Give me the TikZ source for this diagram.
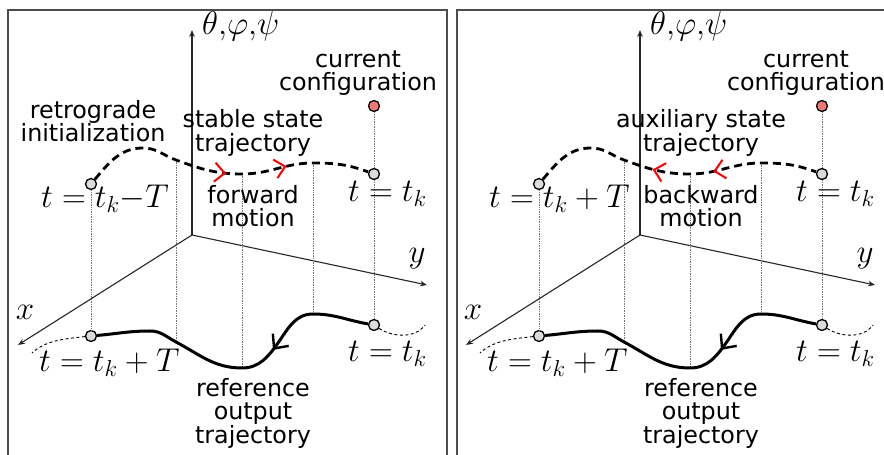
\documentclass[tikz,border=0pt]{standalone}
\usepackage{fix-cm}
\usepackage{fontspec}
\newfontfamily\dejavu{DejaVu Sans}
\usetikzlibrary{arrows.meta, decorations.markings}
\definecolor{nowred}{HTML}{F27878}
\definecolor{knotgray}{HTML}{DCDCDC}

\begin{document}
\begin{tikzpicture}[x=1pt, y=1pt,
    lbl/.style={font=\dejavu\fontsize{23.8}{23.5}\selectfont, align=center, inner sep=0pt},
    mth/.style={font=\fontsize{33}{35}\selectfont, inner sep=0pt, anchor=base west},
    axline/.style={line width=1.1pt, black!85, -{Stealth[length=7pt, width=5.5pt]}},
    knot/.style={circle, draw, line width=1.3pt, fill=#1, minimum size=11pt, inner sep=0pt},
    drop/.style={densely dotted, line width=0.7pt, black!55},
    statepath/.style={line width=2.8pt, dash pattern=on 8pt off 5pt},
    outpath/.style={line width=3pt},
    tail/.style={dash pattern=on 3pt off 2.5pt, line width=0.9pt},
    panelframe/.style={line width=1.5pt, black!70}]
  \useasboundingbox (0,0) rectangle (884,455);
  \clip (0,0) rectangle (884,455);
  \draw[panelframe] (8,-20) rectangle (447,445);
  \draw[panelframe] (457,-20) rectangle (904,445);

  \foreach \dx/\pn/\tstart/\stxt/\mtxt/\tipcmd/\posA/\posB in {
      0/L/{$t=t_k{-}T$}/{stable state\\trajectory}/{forward\\motion}/\arrow/0.505/0.715,
      448/R/{$t=t_k+T$}/{auxiliary state\\trajectory}/{backward\\motion}/\arrowreversed/0.43/0.64}{
  \begin{scope}[xshift=\dx pt]
    % axes
    \coordinate (\pn o) at (192,220);
    \coordinate (\pn zt) at (192,425);
    \coordinate (\pn yt) at (427,170);
    \coordinate (\pn xt) at (18,110);
    \draw[axline] (\pn o) -- (\pn zt);
    \draw[axline] (\pn o) -- (\pn yt);
    \draw[axline] (\pn o) -- (\pn xt);
    \node[mth] (\pn zl) at (202,420) {$\theta{,}\varphi{,}\psi$};
    \node[mth, anchor=base] (\pn yl) at (417,192) {$y$};
    \node[mth, anchor=base] (\pn xl) at (25,135) {$x$};

    % end points of both trajectories
    \node[knot=nowred] (\pn c) at (374,349) {};
    \node[knot=knotgray] (\pn ua) at (91,271) {};
    \node[knot=knotgray] (\pn ub) at (374,281) {};
    \node[knot=knotgray] (\pn la) at (91,119) {};
    \node[knot=knotgray] (\pn lb) at (374,130) {};
    \coordinate (\pn u1) at (143,307);
    \coordinate (\pn u2) at (176,295);
    \coordinate (\pn u3) at (242,281);
    \coordinate (\pn u4) at (313,292);
    \coordinate (\pn l1) at (313,141);
    \coordinate (\pn l2) at (278,112);
    \coordinate (\pn l3) at (242,87);
    \coordinate (\pn l4) at (176,113);
    \coordinate (\pn l5) at (150,124);
    \coordinate (\pn xe) at (32,102);
    \coordinate (\pn ye) at (425,130);

    % projections
    \draw[drop] (\pn c) -- (\pn ub);
    \draw[drop] (\pn ub) -- (\pn lb);
    \draw[drop] (\pn ua) -- (\pn la);
    \draw[drop] (\pn u2) -- (\pn l4);
    \draw[drop] (\pn u3) -- (\pn l3);
    \draw[drop] (\pn u4) -- (\pn l1);

    % state trajectory
    \draw[statepath, postaction={decorate, decoration={markings,
        mark=at position \posA with {\tipcmd[red, solid, line width=2pt]{Straight Barb[length=10pt, width=19pt]}},
        mark=at position \posB with {\tipcmd[red, solid, line width=2pt]{Straight Barb[length=10pt, width=19pt]}}}}]
      (\pn ua) to[out=50, in=180] (\pn u1) to[out=0, in=160] (\pn u2)
      to[out=-20, in=180] (\pn u3) to[out=0, in=180] (\pn u4) to[out=0, in=160] (\pn ub);

    % output trajectory
    \draw[outpath, postaction={decorate, decoration={markings,
        mark=at position 0.37 with {\arrow[line width=2.4pt]{Straight Barb[length=11pt, width=20pt]}}}}]
      (\pn lb) to[out=170, in=0] (\pn l1) to[out=180, in=55] (\pn l2)
      to[out=235, in=0] (\pn l3) to[out=180, in=-28] (\pn l4)
      to[out=152, in=0] (\pn l5) to[out=180, in=5] (\pn la);
    \draw[tail] (\pn la) .. controls (62,116) and (45,114) .. (\pn xe);
    \draw[tail] (\pn lb) .. controls (392,118) and (415,116) .. (\pn ye);

    % labels
    \node[lbl] (\pn cc) at (358,382) {current\\configuration};
    \node[lbl] (\pn st) at (253,322) {\stxt};
    \node[lbl] (\pn mo) at (253,249) {\mtxt};
    \node[lbl] (\pn ro) at (253,42) {reference\\output\\trajectory};
    \node[mth] (\pn t1) at (41,247) {\tstart};
    \node[mth] (\pn t2) at (348,253) {$t=t_k$};
    \node[mth] (\pn t3) at (39,83) {$t=t_k+T$};
    \node[mth] (\pn t4) at (348,93) {$t=t_k$};
  \end{scope}}
  \node[lbl] (ini) at (93,334) {retrograde\\initialization};
\end{tikzpicture}
\end{document}
